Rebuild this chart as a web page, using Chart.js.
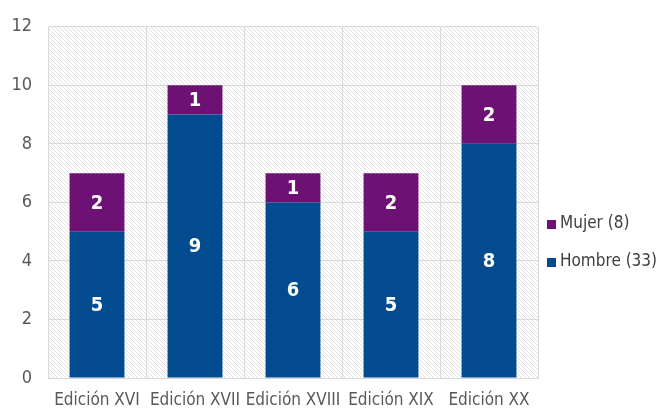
<!DOCTYPE html>
<html>
<head>
<meta charset="utf-8">
<script src="https://cdn.jsdelivr.net/npm/chart.js@4"></script>
<style>
  html, body { margin: 0; padding: 0; background: #fff; }
  #wrap { width: 657px; height: 412px; }
</style>
</head>
<body>
<div id="wrap"><canvas id="chart"></canvas></div>
<script>
const categories = ['Edición XVI', 'Edición XVII', 'Edición XVIII', 'Edición XIX', 'Edición XX'];
const hombre = [5, 9, 6, 5, 8];
const mujer = [2, 1, 1, 2, 2];
const yTicks = [0, 2, 4, 6, 8, 10, 12];

const FONT = "'DejaVu Sans Condensed', 'DejaVu Sans', sans-serif";
const BLUE = '#024b8f';
const PURPLE = '#6d1274';

// diagonal hatch for the plot background
function makeHatch() {
    const n = 4;
    const c = document.createElement('canvas');
    c.width = n; c.height = n;
    const g = c.getContext('2d');
    g.fillStyle = '#fff';
    g.fillRect(0, 0, n, n);
    g.strokeStyle = '#d9d9d9';
    g.lineWidth = 0.8;
    g.beginPath();
    g.moveTo(-1, -1); g.lineTo(n + 1, n + 1);
    g.moveTo(-1, n - 1); g.lineTo(1, n + 1);
    g.moveTo(n - 1, -1); g.lineTo(n + 1, 1);
    g.stroke();
    return c;
}

const hatchPlugin = {
    id: 'hatch',
    beforeDraw(chart) {
        const { ctx, chartArea: a } = chart;
        ctx.save();
        ctx.fillStyle = ctx.createPattern(makeHatch(), 'repeat');
        ctx.fillRect(a.left, a.top, a.right - a.left, a.bottom - a.top);
        ctx.restore();
    }
};

// white value labels in the middle of each segment
const valueLabels = {
    id: 'valueLabels',
    afterDatasetsDraw(chart) {
        const ctx = chart.ctx;
        ctx.save();
        ctx.fillStyle = '#fff';
        ctx.font = 'bold condensed 20px ' + FONT;
        ctx.textAlign = 'center';
        ctx.textBaseline = 'middle';
        chart.data.datasets.forEach((ds, i) => {
            chart.getDatasetMeta(i).data.forEach((bar, j) => {
                const mid = (bar.y + bar.base) / 2;
                ctx.fillText(ds.data[j], bar.x, mid + 1);
            });
        });
        ctx.restore();
    }
};

// legend on the right, Mujer above Hombre
const sideLegend = {
    id: 'sideLegend',
    afterDraw(chart) {
        const ctx = chart.ctx;
        const items = [
            { text: 'Mujer (' + mujer.reduce((a, b) => a + b, 0) + ')', color: PURPLE, y: 224 },
            { text: 'Hombre (' + hombre.reduce((a, b) => a + b, 0) + ')', color: BLUE, y: 262 }
        ];
        ctx.save();
        ctx.font = 'condensed 17px ' + FONT;
        ctx.textBaseline = 'middle';
        items.forEach(it => {
            ctx.fillStyle = it.color;
            ctx.fillRect(547, it.y - 4, 9, 9);
            ctx.fillStyle = '#404040';
            ctx.fillText(it.text, 560, it.y);
        });
        ctx.restore();
    }
};

new Chart(document.getElementById('chart'), {
    type: 'bar',
    data: {
        labels: categories,
        datasets: [
            { label: 'Hombre', data: hombre, backgroundColor: BLUE, categoryPercentage: 1, barPercentage: 0.56 },
            { label: 'Mujer', data: mujer, backgroundColor: PURPLE, categoryPercentage: 1, barPercentage: 0.56 }
        ]
    },
    options: {
        responsive: true,
        maintainAspectRatio: false,
        animation: false,
        layout: { padding: { top: 25, right: 119, left: 0, bottom: 0 } },
        plugins: {
            legend: { display: false },
            tooltip: { enabled: false }
        },
        scales: {
            x: {
                stacked: true,
                grid: { color: '#d9d9d9', offset: true, drawTicks: false },
                border: { color: '#d9d9d9' },
                ticks: {
                    color: '#595959', maxRotation: 0, autoSkip: false, padding: 12,
                    font: { family: FONT, size: 17, weight: 'condensed' }
                },
                afterFit(s) { s.height = 34; }
            },
            y: {
                stacked: true,
                min: 0,
                max: 12,
                afterBuildTicks(s) { s.ticks = yTicks.map(v => ({ value: v })); },
                grid: { color: '#d9d9d9', drawTicks: false },
                border: { color: '#d9d9d9' },
                ticks: { color: '#595959', font: { family: FONT, size: 18, weight: 'condensed' }, padding: 16 },
                afterFit(s) { s.width = 48; }
            }
        }
    },
    plugins: [hatchPlugin, valueLabels, sideLegend]
});
</script>
</body>
</html>
